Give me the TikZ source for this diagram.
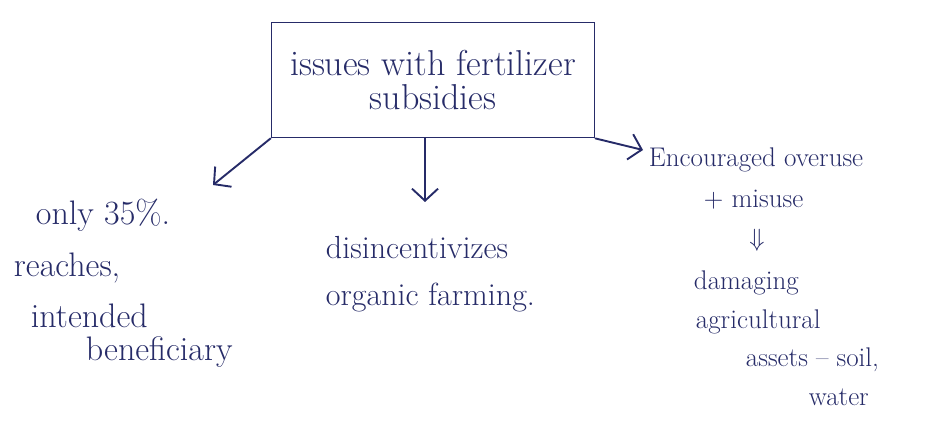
\documentclass[tikz,border=0pt]{standalone}
\usetikzlibrary{arrows.meta}
\definecolor{ink}{HTML}{262B68}
\begin{document}
\begin{tikzpicture}[x=1pt,y=-1pt,line width=1.9pt,
  hand/.style={text=ink,inner sep=0pt,anchor=west},
  big/.style={hand,font=\fontsize{34}{38}\selectfont},
  mid/.style={hand,font=\fontsize{32}{36}\selectfont},
  small/.style={hand,font=\fontsize{27}{31}\selectfont},
  link/.style={draw=ink,line cap=round,-{Straight Barb[length=12pt,width=26pt]}}]
\useasboundingbox[fill=white] (0,0) rectangle (944,427);

% central topic
\node[draw=ink,text=ink,minimum width=323pt,minimum height=115pt,inner sep=0pt,
      align=center,font=\fontsize{36}{34}\selectfont] (title) at (433,80)
  {issues with fertilizer\\subsidies};

% left branch
\node[big] (l1) at (35,215) {only 35\%.};
\node[big] (l2) at (13,268) {reaches,};
\node[big] (l3) at (30,316) {intended};
\node[big] (l4) at (85,352) {beneficiary};

% middle branch
\node[mid] (m1) at (325,248) {disincentivizes};
\node[mid] (m2) at (325,298) {organic farming.};

% right branch
\node[small] (r1) at (648,160) {Encouraged overuse};
\node[small] (r2) at (703,200) {+ misuse};
\node[small,anchor=center] (r3) at (757,240) {$\Downarrow$};
\node[small] (r4) at (693,283) {damaging};
\node[small] (r5) at (695,322) {agricultural};
\node[small] (r6) at (745,360) {assets -- soil,};
\node[small] (r7) at (808,397) {water};

% connectors
\coordinate (lend) at (213,185);
\coordinate (mend) at (425,202);
\coordinate (rend) at (643,150);
\draw[link] (title.south west) -- (lend);
\draw[link] (title.south -| mend) -- (mend);
\draw[link] (title.south east) -- (rend);
\end{tikzpicture}
\end{document}
